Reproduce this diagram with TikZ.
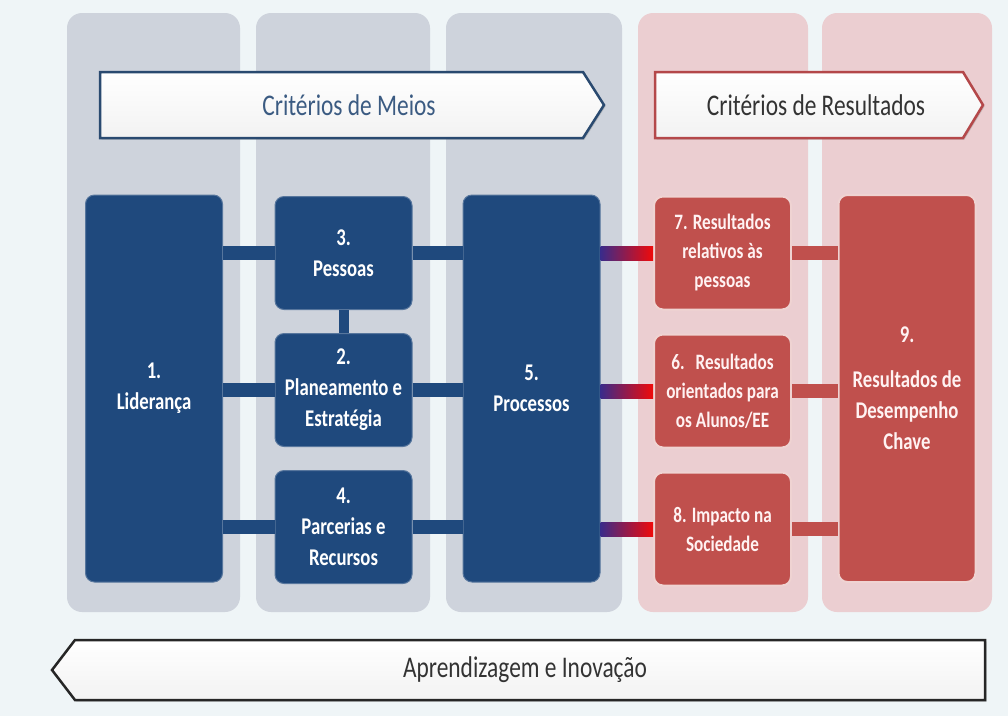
\documentclass[tikz,border=0pt]{standalone}
\usepackage{fontspec}
\setmainfont{Carlito}[FakeStretch=0.78]
\usetikzlibrary{positioning,calc,shadows}

\definecolor{bgcol}{HTML}{EFF5F7}
\definecolor{colgray}{HTML}{CED3DC}
\definecolor{colpink}{HTML}{EBCED1}
\definecolor{navy}{HTML}{1F497D}
\definecolor{brick}{HTML}{C0504D}
\definecolor{lineblue}{HTML}{2A4A70}
\definecolor{txtblue}{HTML}{3B5B82}
\definecolor{linered}{HTML}{B4484A}
\definecolor{gradleft}{HTML}{3A2B8A}
\definecolor{gradmid}{HTML}{B0159A}
\definecolor{gradright}{HTML}{F00A0A}

\begin{document}
\begin{tikzpicture}[x=1pt,y=-1pt,
	blue box/.style={rectangle,rounded corners=9pt,fill=navy,draw=navy!75!white,line width=1pt,text=white,
		font=\bfseries\fontsize{24}{31}\selectfont,align=center,minimum width=137pt,inner sep=0pt},
	red box/.style={blue box,fill=brick,draw=brick!25!white,line width=2pt,text=red!5!white},
	small text/.style={font=\bfseries\fontsize{22}{29}\selectfont},
	tall/.style={minimum height=387pt},
	short/.style={minimum height=113pt},
	column/.style={rounded corners=15pt},
	head arrow/.style={line width=2.5pt,line join=miter,top color=white,bottom color=gray!10,
		drop shadow={shadow xshift=1.5pt,shadow yshift=-1.5pt,opacity=.35}},
	head text/.style={font=\fontsize{30}{34}\selectfont},
	bar/.style={line width=14pt}]
	
	\fill[bgcol] (0,0) rectangle (1008,716);
	\useasboundingbox (0,0) rectangle (1008,716);
	
	% columns
	\fill[colgray,column] (67,13) rectangle (240,612);
	\fill[colgray,column] (256,13) rectangle (430,612);
	\fill[colgray,column] (446,13) rectangle (622,612);
	\fill[colpink,column] (638,13) rectangle (808,612);
	\fill[colpink,column] (822,13) rectangle (992,612);
	
	% headers
	\draw[head arrow,draw=lineblue] (100,72) -- (583,72) -- (604,105) -- (583,138) -- (100,138) -- cycle;
	\node[head text,text=txtblue] (meios) at (349,105) {Critérios de Meios};
	\draw[head arrow,draw=linered] (655,72) -- (963,72) -- (983,105) -- (963,138) -- (655,138) -- cycle;
	\node[head text,text=black!80] (result) at (816,105) {Critérios de Resultados};
	\draw[head arrow,draw=black!85] (985,640) -- (75,640) -- (52,670) -- (75,700) -- (985,700) -- cycle;
	\node[head text,text=black!80] (aprend) at (525,670) {Aprendizagem e Inovação};
	
	% criteria
	\node[blue box,tall] (lid) at (154,388.5) {1.\\Liderança};
	\node[blue box,short] (pes) at (343.5,253) {3.\\Pessoas};
	\node[blue box,short] (plan) [below=23pt of pes] {2.\\Planeamento e\\Estratégia};
	\node[blue box,short] (parc) [below=23pt of plan] {4.\\Parcerias e\\Recursos};
	\node[blue box,tall] (proc) at (531.5,388.5) {5.\\Processos};
	
	\node[red box,short,small text] (res7) at (722.5,253) {7. Resultados\\relativos às\\pessoas};
	\node[red box,short,small text] (res6) [below=23pt of res7] {6.\enspace Resultados\\orientados para\\os Alunos/EE};
	\node[red box,short,small text] (res8) [below=23pt of res6] {8. Impacto na\\Sociedade};
	\node[red box,tall] (res9) at (907,388.5) {9.\\[14pt]Resultados de\\Desempenho\\Chave};
	
	% links
	\foreach \n in {pes,plan,parc}{
		\draw[bar,navy] (\n.west) -- (\n.west -| lid.east);
		\draw[bar,navy] (\n.east) -- (\n.east -| proc.west);
	}
	\draw[bar,navy,line width=10pt] (pes.south) -- (plan.north);
	\foreach \n in {res7,res6,res8}{
		\shade[left color=gradleft,middle color=gradmid,right color=gradright]
		($(\n.west -| proc.east)+(0,-7)$) rectangle ($(\n.west)+(0,7)$);
		\draw[bar,brick] (\n.east) -- (\n.east -| res9.west);
	}
\end{tikzpicture}
\end{document}
